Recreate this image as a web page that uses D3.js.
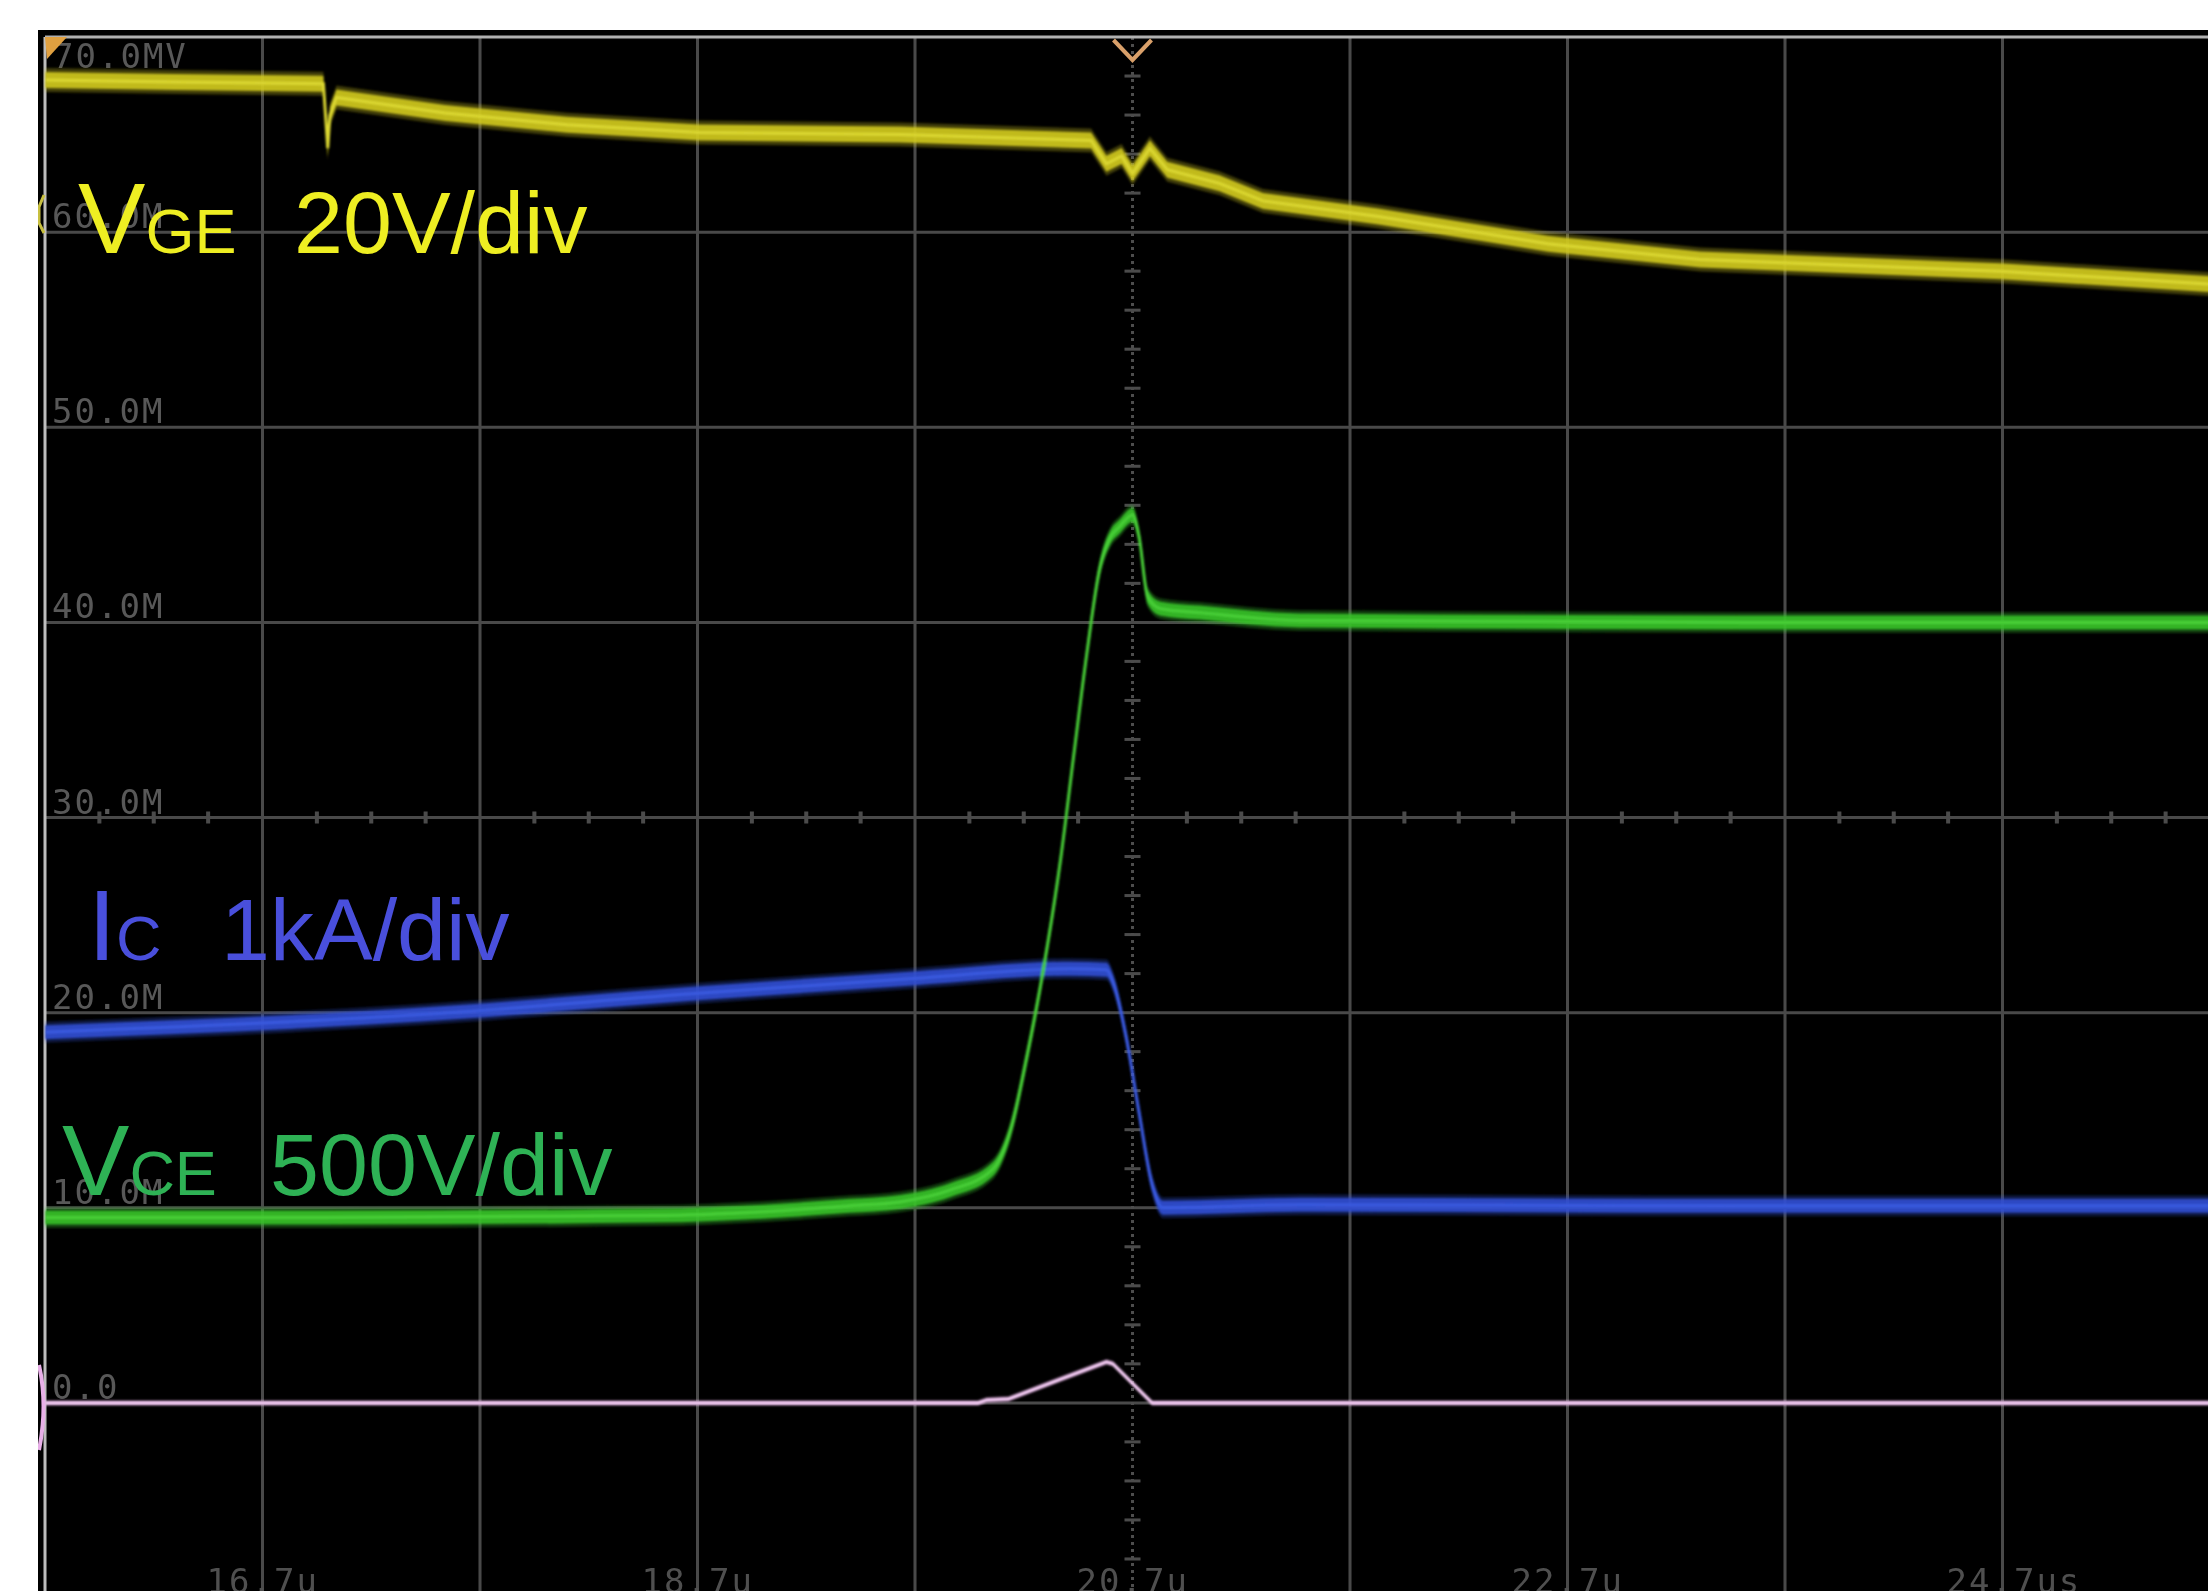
<!DOCTYPE html>
<html>
<head>
<meta charset="utf-8">
<script src="https://cdn.jsdelivr.net/npm/d3@7"></script>
<style>
  body { margin: 0; background: #fff; }
  svg { display: block; }
</style>
</head>
<body>
<div id="scope"></div>
<script>
// time in microseconds, values in screen units (10 units = 1 division)
const vgeTime = [15.7, 16.3, 16.98, 17.0, 17.01, 17.04, 17.54, 18.1, 18.71, 19.63, 20.51, 20.58, 20.65, 20.70, 20.78, 20.86, 21.1, 21.3, 21.83, 22.39, 22.61, 23.31, 24.69, 25.7];
const vgeVal  = [67.8, 67.7, 67.6, 64.3, 66.0, 66.9, 66.1, 65.5, 65.1, 65.0, 64.7, 63.5, 63.9, 63.0, 64.3, 63.2, 62.5, 61.6, 60.8, 59.8, 59.4, 58.6, 58.0, 57.3];

const vceTime = [15.7, 17.0, 18.5, 19.0, 19.4, 19.63, 19.86, 20.06, 20.14, 20.21, 20.29, 20.37, 20.43, 20.49, 20.55, 20.60, 20.64, 20.70, 20.73, 20.77, 20.83, 21.01, 21.47, 23.5, 25.7];
const vceVal  = [9.5, 9.5, 9.6, 9.8, 10.1, 10.3, 10.9, 12.0, 14.0, 17.5, 22.2, 27.9, 33.2, 38.4, 42.8, 44.4, 44.9, 45.5, 44.4, 41.3, 40.7, 40.5, 40.1, 40.0, 40.0];

const icTime = [15.7, 17.43, 18.72, 19.69, 20.41, 20.58, 20.61, 20.67, 20.73, 20.79, 20.84, 21.47, 23.5, 25.7];
const icVal  = [19.0, 19.9, 21.0, 21.75, 22.25, 22.2, 21.6, 18.8, 14.9, 11.2, 10.0, 10.15, 10.1, 10.1];

const powTime = [15.7, 19.99, 20.03, 20.13, 20.58, 20.61, 20.79, 25.7];
const powVal  = [0, 0, 0.15, 0.2, 2.1, 2.0, 0, 0];

const chanMain  = ["V", "I", "V"];
const chanSub   = ["GE", "C", "CE"];
const chanScale = ["20V/div", "1kA/div", "500V/div"];

const yTickVals   = [0, 10, 20, 30, 40, 50, 60];
const yTickLabels = ["0.0", "10.0M", "20.0M", "30.0M", "40.0M", "50.0M", "60.0M"];
const topLabel    = "70.0MV";
const xTickVals   = [16.7, 18.7, 20.7, 22.7, 24.7];
const xTickLabels = ["16.7u", "18.7u", "20.7u", "22.7u", "24.7us"];

const W = 2208, H = 1591;

const x = d3.scaleLinear().domain([15.7, 25.7]).range([45, 2220]);
const y = d3.scaleLinear().domain([-10, 70]).range([1598, 37]);

const svg = d3.select("#scope").append("svg")
    .attr("width", W)
    .attr("height", H);

const defs = svg.append("defs");
defs.append("clipPath").attr("id", "screen")
  .append("rect").attr("x", 38).attr("y", 30).attr("width", W - 38).attr("height", H - 30);
defs.append("filter").attr("id", "soft")
  .append("feGaussianBlur").attr("stdDeviation", 1.1);
defs.append("filter").attr("id", "softer")
  .append("feGaussianBlur").attr("stdDeviation", 0.7);

// screen background
svg.append("rect")
    .attr("x", 38).attr("y", 30)
    .attr("width", W - 38).attr("height", H - 30)
    .attr("fill", "#000");

const plot = svg.append("g").attr("clip-path", "url(#screen)");

// graticule
const divT = d3.range(1, 10).map(i => x.domain()[0] + i);
const divV = d3.range(-1, 7).map(i => i * 10);
const centerT = 20.7, centerV = 30;

const grid = plot.append("g").attr("filter", "url(#softer)");
grid.selectAll("line.gv")
  .data(divT.filter(t => Math.abs(t - centerT) > 0.01))
  .join("line")
    .attr("x1", d => x(d)).attr("x2", d => x(d))
    .attr("y1", y(70)).attr("y2", H)
    .attr("stroke", "#4a4a4a").attr("stroke-width", 3);
grid.selectAll("line.gh")
  .data(divV)
  .join("line")
    .attr("x1", x(15.7)).attr("x2", W)
    .attr("y1", d => y(d)).attr("y2", d => y(d))
    .attr("stroke", "#4a4a4a").attr("stroke-width", 3);

// dotted centre line
grid.append("line")
    .attr("x1", x(centerT)).attr("x2", x(centerT))
    .attr("y1", y(70)).attr("y2", H)
    .attr("stroke", "#4e4e4e").attr("stroke-width", 3)
    .attr("stroke-dasharray", "3,4");

// minor ticks on the centre lines
const minorT = d3.range(0, 41).map(i => 15.7 + i * 0.25).filter((d, i) => i % 4 !== 0);
grid.selectAll("rect.mt")
  .data(minorT)
  .join("rect")
    .attr("x", d => x(d) - 2).attr("y", y(centerV) - 6)
    .attr("width", 4).attr("height", 12)
    .attr("fill", "#4c4c4c");
const minorV = d3.range(-10, 70, 2).filter(v => v % 10 !== 0);
grid.selectAll("rect.mv")
  .data(minorV)
  .join("rect")
    .attr("x", x(centerT) - 8).attr("y", d => y(d) - 1.5)
    .attr("width", 16).attr("height", 3)
    .attr("fill", "#4c4c4c");

// frame
plot.append("line")
    .attr("x1", x(15.7)).attr("x2", x(15.7)).attr("y1", y(70)).attr("y2", H)
    .attr("stroke", "#bdbdbd").attr("stroke-width", 3);
plot.append("line")
    .attr("x1", x(15.7)).attr("x2", W).attr("y1", y(70)).attr("y2", y(70))
    .attr("stroke", "#b0b0b0").attr("stroke-width", 3);

// graticule readouts
const mono = "'DejaVu Sans Mono', 'Liberation Mono', monospace";
const readouts = plot.append("g").attr("filter", "url(#softer)");
readouts.selectAll("text.yl")
  .data(yTickVals)
  .join("text")
    .attr("x", 52)
    .attr("y", d => y(d) - 4)
    .attr("font-family", mono).attr("font-size", 34).attr("letter-spacing", 2)
    .attr("fill", "#585858")
    .text((d, i) => yTickLabels[i]);
readouts.append("text")
    .attr("x", 53).attr("y", 68)
    .attr("font-family", mono).attr("font-size", 34).attr("letter-spacing", 2)
    .attr("fill", "#585858")
    .text(topLabel);
readouts.selectAll("text.xl")
  .data(xTickVals)
  .join("text")
    .attr("x", d => x(d) - 56)
    .attr("y", 1593)
    .attr("font-family", mono).attr("font-size", 34).attr("letter-spacing", 2)
    .attr("fill", "#505050")
    .text((d, i) => xTickLabels[i]);

// traces
const traces = plot.append("g").attr("filter", "url(#soft)");

function drawTrace(times, vals, color, core, band, curve) {
  const pts = times.map((t, i) => ({t: t, v: vals[i]}));
  traces.append("path").datum(pts)
      .attr("fill", color).attr("opacity", 0.3)
      .attr("d", d3.area().curve(curve)
          .x(d => x(d.t))
          .y0(d => y(d.v) - band * 1.5)
          .y1(d => y(d.v) + band * 1.5));
  traces.append("path").datum(pts)
      .attr("fill", color).attr("opacity", 0.9)
      .attr("d", d3.area().curve(curve)
          .x(d => x(d.t))
          .y0(d => y(d.v) - band)
          .y1(d => y(d.v) + band));
  traces.append("path").datum(pts)
      .attr("fill", "none")
      .attr("stroke", core).attr("stroke-width", 3)
      .attr("d", d3.line().curve(curve)
          .x(d => x(d.t))
          .y(d => y(d.v)));
}

drawTrace(powTime, powVal, "#d89ed8", "#f4cdf4", 2, d3.curveLinear);
drawTrace(vgeTime, vgeVal, "#cfc81e", "#dcd830", 8, d3.curveLinear);
drawTrace(icTime, icVal, "#2f4fd2", "#3a5ae0", 7, d3.curveMonotoneX);
drawTrace(vceTime, vceVal, "#36c22a", "#48d038", 7, d3.curveMonotoneX);

// trigger markers
plot.append("path")
    .attr("d", `M${x(centerT) - 19},${y(70) + 3} L${x(centerT)},${y(70) + 23} L${x(centerT) + 19},${y(70) + 3}`)
    .attr("fill", "none").attr("stroke", "#d9a06a").attr("stroke-width", 4);
plot.append("path")
    .attr("d", `M${x(15.7)},${y(70)} L${x(15.7) + 22},${y(70)} L${x(15.7) + 2},${y(70) + 22} Z`)
    .attr("fill", "#e0a040");
plot.append("path")
    .attr("d", `M44,195 L39,207 L39,223 L44,233`)
    .attr("fill", "none").attr("stroke", "#c8c040").attr("stroke-width", 3);
plot.append("path")
    .attr("d", `M39,1365 Q48,1405 39,1450`)
    .attr("fill", "none").attr("stroke", "#e8b0e8").attr("stroke-width", 4);

// channel captions
const sans = "'Liberation Sans', Arial, sans-serif";
const capColor = ["#eeee22", "#4a50dc", "#2fb255"];
const capX = [78, 88, 62];
const capScaleX = [294, 221, 270];
const capY = [253, 960, 1195];

const caps = svg.append("g").attr("filter", "url(#softer)");
chanMain.forEach((m, i) => {
  const t = caps.append("text")
      .attr("x", capX[i]).attr("y", capY[i])
      .attr("font-family", sans)
      .attr("fill", capColor[i]);
  t.append("tspan").attr("font-size", 101).text(m);
  t.append("tspan").attr("font-size", 63).text(chanSub[i]);
  t.append("tspan").attr("x", capScaleX[i]).attr("font-size", 88).text(chanScale[i]);
});
</script>
</body>
</html>
